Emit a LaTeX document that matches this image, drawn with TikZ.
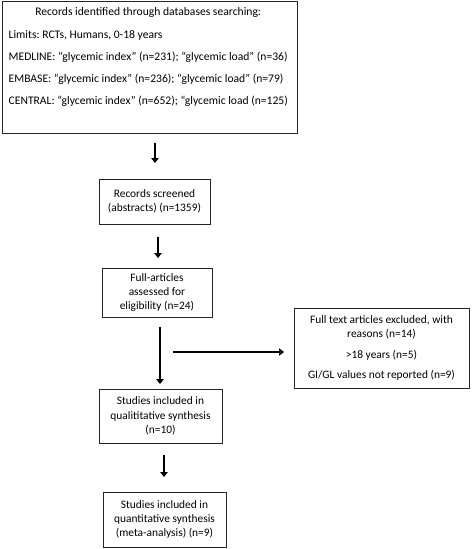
\documentclass[tikz,border=0pt]{standalone}
\usepackage{fontspec}
\setmainfont{Carlito}
\frenchspacing
\usetikzlibrary{arrows.meta}
\begin{document}
\begin{tikzpicture}[x=1pt,y=-1pt,
  box/.style={draw=black!85,line width=0.9pt,inner sep=0pt,align=center,font=\fontsize{11.4}{14.2}\selectfont},
  arr/.style={line width=2.6pt,-{Triangle[length=5pt,width=7.5pt]}}]
\useasboundingbox (0,0) rectangle (472,549);
\fill[white] (0,0) rectangle (472,549);
% boxes
\node[box,minimum width=295pt,minimum height=132pt] (b1) at (149.5,67) {};
\node[anchor=north west,inner sep=0pt,align=left,font=\fontsize{11.6}{22.3}\selectfont] (t1) at (8.5,7.5)
 {\makebox[279pt]{Records identified through databases searching:}\\
  Limits: RCTs, Humans, 0-18 years\\
  MEDLINE: “glycemic index” (n=231); “glycemic load” (n=36)\\
  EMBASE: “glycemic index” (n=236); “glycemic load” (n=79)\\
  CENTRAL: “glycemic index” (n=652); “glycemic load (n=125)};
\node[box,minimum width=111pt,minimum height=45pt] (b2) at (154.5,201.5) {Records screened\\(abstracts) (n=1359)};
\node[box,minimum width=110pt,minimum height=49pt] (b3) at (157,292.5) {Full-articles\\assessed for\\eligibility (n=24)};
\node[box,minimum width=123pt,minimum height=54pt] (b4) at (160.5,416) {Studies included in\\qualititative synthesis\\(n=10)};
\node[box,minimum width=123pt,minimum height=55pt] (b6) at (164.5,519.5) {Studies included in\\quantitative synthesis\\(meta-analysis) (n=9)};
\node[box,minimum width=175pt,minimum height=80pt] (b5) at (381.5,348) {Full text articles excluded, with\\reasons (n=14)\\[6pt]{>}18 years (n=5)\\[6pt]GI/GL values not reported (n=9)};
% arrow end points
\coordinate (a1s) at (155,143);
\coordinate (a1e) at (155,163);
\coordinate (a2s) at (158,237);
\coordinate (a2e) at (158,258);
\coordinate (a3s) at (160,327);
\coordinate (a3e) at (160,384);
\coordinate (hs) at (173,352);
\coordinate (he) at (284,352);
\coordinate (a4s) at (164,455);
\coordinate (a4e) at (164,477);
\draw[arr] (a1s) -- (a1e);
\draw[arr] (a2s) -- (a2e);
\draw[arr] (a3s) -- (a3e);
\draw[arr] (hs) -- (he);
\draw[arr] (a4s) -- (a4e);
\end{tikzpicture}
\end{document}
